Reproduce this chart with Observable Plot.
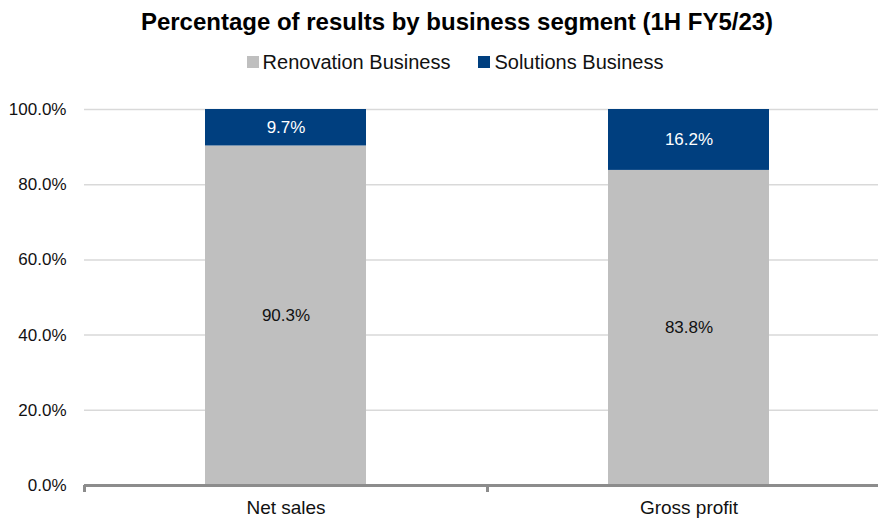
<!DOCTYPE html>
<html>
<head>
<meta charset="utf-8">
<script src="https://cdn.jsdelivr.net/npm/d3@7"></script>
<script src="https://cdn.jsdelivr.net/npm/@observablehq/plot@0.6"></script>
<style>
  body { margin: 0; background: #fff; font-family: "Liberation Sans", Arial, sans-serif; }
  #title { height: 44px; line-height: 44px; text-align: center; font-weight: bold; font-size: 24px; color: #000; padding-left: 36px; }
  #legend { height: 36px; display: flex; justify-content: center; align-items: center; font-size: 20px; color: #111; gap: 28px; padding-left: 32px; }
  #legend .item { display: flex; align-items: center; }
  #legend .sw { width: 12px; height: 12px; margin-right: 4px; display: inline-block; }
</style>
</head>
<body>
<div id="title">Percentage of results by business segment (1H FY5/23)</div>
<div id="legend"></div>
<div id="chart"></div>
<script>
const categories = ["Net sales", "Gross profit"];
const seriesNames = ["Renovation Business", "Solutions Business"];
const renovation = [90.3, 83.8];
const solutions = [9.7, 16.2];
const colors = ["#bfbfbf", "#003f7f"];
const yTicks = [0, 20, 40, 60, 80, 100];

const data = [];
categories.forEach((c, i) => {
  data.push({category: c, series: seriesNames[0], value: renovation[i]});
  data.push({category: c, series: seriesNames[1], value: solutions[i]});
});

const legend = document.getElementById("legend");
seriesNames.forEach((s, i) => {
  const it = document.createElement("div");
  it.className = "item";
  it.innerHTML = `<span class="sw" style="background:${colors[i]}"></span><span>${s}</span>`;
  legend.appendChild(it);
});

const step = (890 - 84) / 2;
const fmt = d => d.toFixed(1) + "%";

const plot = Plot.plot({
  width: 878,
  height: 440,
  marginTop: 29,
  marginBottom: 35,
  marginLeft: 84,
  marginRight: 0,
  style: {fontFamily: "'Liberation Sans', Arial, sans-serif", fontSize: "17px", color: "#111"},
  x: {domain: categories, range: [84, 890], paddingInner: 0.6, paddingOuter: 0.3},
  y: {domain: [0, 100]},
  color: {domain: seriesNames, range: colors},
  marks: [
    Plot.ruleY(yTicks.filter(d => d > 0), {stroke: "#d9d9d9", strokeWidth: 1.5}),
    Plot.barY(data, Plot.stackY({x: "category", y: "value", fill: "series"})),
    Plot.text(data, Plot.stackY({x: "category", y: "value", z: "series",
      text: d => d.series === seriesNames[0] ? fmt(d.value) : "",
      fill: "#111", fontSize: 17})),
    Plot.text(data, Plot.stackY({x: "category", y: "value", z: "series",
      text: d => d.series === seriesNames[1] ? fmt(d.value) : "",
      fill: "#fff", fontSize: 17})),
    Plot.ruleY([0], {stroke: "#8c8c8c", strokeWidth: 3}),
    Plot.axisY({ticks: yTicks, tickFormat: fmt, tickSize: 0, tickPadding: 18, label: null, fontSize: 17}),
    Plot.axisX({tickSize: 7, tickFormat: () => "", dx: -step / 2, stroke: "#8c8c8c", strokeWidth: 3, label: null}),
    Plot.axisX({tickSize: 0, tickPadding: 15, label: null, fontSize: 19})
  ]
});
document.getElementById("chart").appendChild(plot);
</script>
</body>
</html>
